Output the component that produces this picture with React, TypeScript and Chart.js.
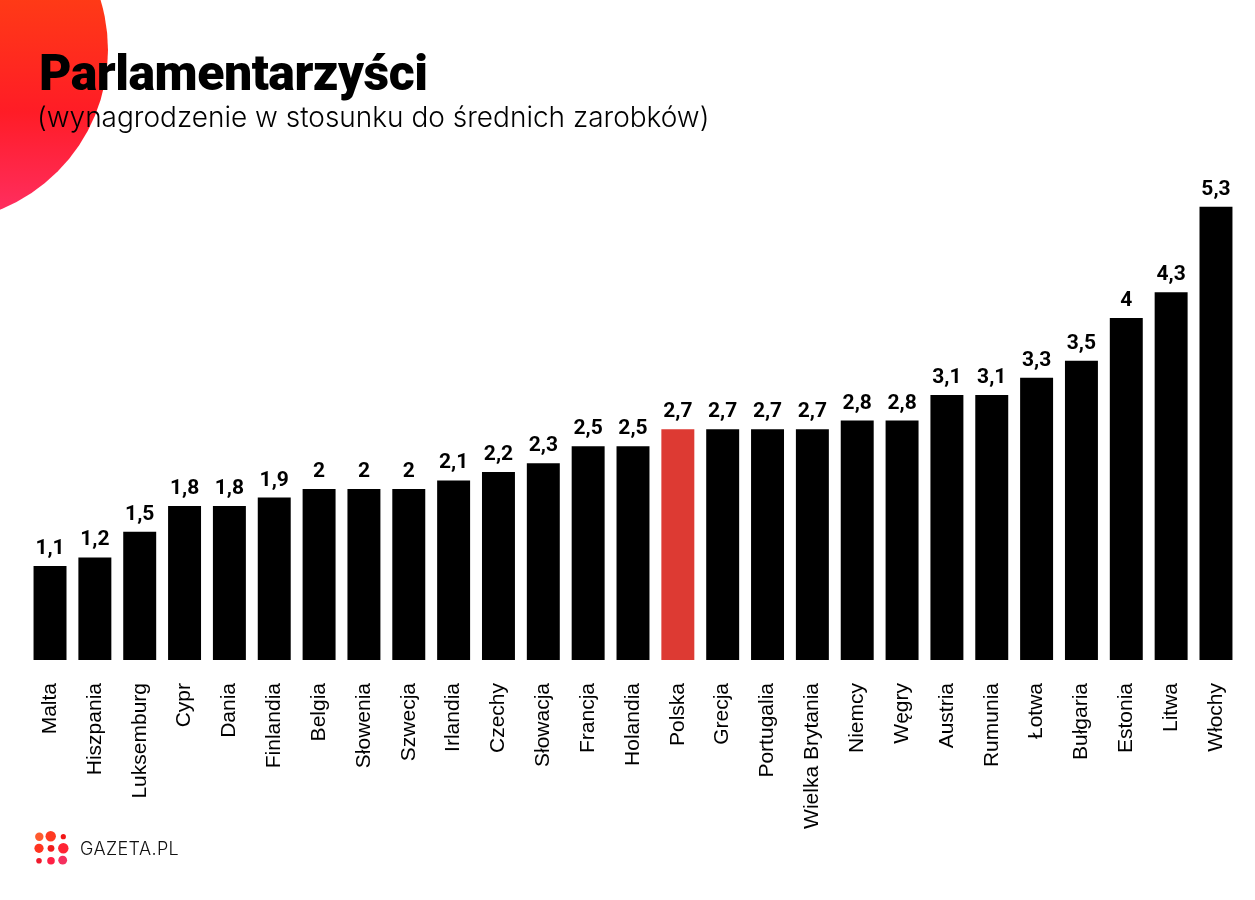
import React, { useEffect, useRef } from "react";
import { Chart, registerables } from "chart.js";

Chart.register(...registerables);

const countries: string[] = [
  "Malta", "Hiszpania", "Luksemburg", "Cypr", "Dania", "Finlandia", "Belgia",
  "Słowenia", "Szwecja", "Irlandia", "Czechy", "Słowacja", "Francja", "Holandia",
  "Polska", "Grecja", "Portugalia", "Wielka Brytania", "Niemcy", "Węgry",
  "Austria", "Rumunia", "Łotwa", "Bułgaria", "Estonia", "Litwa", "Włochy",
];

const ratios: number[] = [
  1.1, 1.2, 1.5, 1.8, 1.8, 1.9, 2, 2, 2, 2.1, 2.2, 2.3, 2.5, 2.5,
  2.7, 2.7, 2.7, 2.7, 2.8, 2.8, 3.1, 3.1, 3.3, 3.5, 4, 4.3, 5.3,
];

const highlighted = "Polska";

const TITLE = "Parlamentarzyści";
const SUBTITLE = "(wynagrodzenie w stosunku do średnich zarobków)";

const logoDots: { cx: number; cy: number; r: number; c: string }[] = [
  { cx: 9.3, cy: 11.7, r: 4.2, c: "#ff5a2e" },
  { cx: 20.7, cy: 11.2, r: 5.2, c: "#ff3a22" },
  { cx: 33.3, cy: 11.7, r: 2.6, c: "#f21616" },
  { cx: 9.0, cy: 23.3, r: 4.6, c: "#ff3420" },
  { cx: 21.0, cy: 23.3, r: 3.4, c: "#f01c1c" },
  { cx: 33.3, cy: 23.3, r: 5.2, c: "#ff2434" },
  { cx: 9.0, cy: 35.7, r: 2.8, c: "#f01a2c" },
  { cx: 21.0, cy: 35.7, r: 3.8, c: "#ff2044" },
  { cx: 32.7, cy: 35.2, r: 4.4, c: "#f5305e" },
];

const valueLabels = {
  id: "valueLabels",
  afterDatasetsDraw(chart: any) {
    const ctx = chart.ctx;
    const meta = chart.getDatasetMeta(0);
    ctx.save();
    ctx.font = "bold 21px Roboto";
    ctx.fillStyle = "#000";
    ctx.textAlign = "center";
    ctx.textBaseline = "alphabetic";
    meta.data.forEach((bar: any, i: number) => {
      const v = chart.data.datasets[0].data[i];
      ctx.fillText(String(v).replace(".", ","), bar.x, bar.y - 12);
    });
    ctx.restore();
  },
};

export default function App() {
  const ref = useRef<HTMLCanvasElement | null>(null);

  useEffect(() => {
    if (!ref.current) return;
    const chart = new Chart(ref.current, {
      type: "bar",
      data: {
        labels: countries,
        datasets: [
          {
            data: ratios,
            backgroundColor: countries.map((c) => (c === highlighted ? "#dd3a33" : "#000000")),
            borderWidth: 0,
            barPercentage: 0.735,
            categoryPercentage: 1,
          },
        ],
      },
      options: {
        responsive: false,
        animation: false,
        layout: { padding: { left: 27.6, right: 16.6, top: 0, bottom: 0 } },
        plugins: { legend: { display: false }, tooltip: { enabled: false }, title: { display: false } },
        scales: {
          x: {
            grid: { display: false, drawTicks: false },
            border: { display: false },
            ticks: {
              color: "#000",
              font: { family: "'Liberation Sans', Arial, sans-serif", size: 21 },
              minRotation: 90,
              maxRotation: 90,
              autoSkip: false,
              padding: 23,
            },
            afterFit: (s: any) => {
              s.height = 240;
              s.paddingLeft = 0;
              s.paddingRight = 0;
            },
          },
          y: {
            display: false,
            min: 0,
            max: 7.719,
          },
        },
      },
      plugins: [valueLabels],
    });
    return () => chart.destroy();
  }, []);

  return (
    <div
      style={{
        position: "absolute",
        left: 0,
        top: 0,
        width: 1255,
        height: 900,
        overflow: "hidden",
        background: "#fff",
      }}
    >
      <div
        style={{
          position: "absolute",
          left: -236,
          top: -122,
          width: 344,
          height: 344,
          borderRadius: "50%",
          background: "linear-gradient(180deg, #ff4010 0%, #ff3a16 35%, #ff1c26 68%, #ff3066 100%)",
        }}
      />
      <canvas ref={ref} width={1255} height={900} style={{ position: "absolute", left: 0, top: 0 }} />
      <div
        style={{
          position: "absolute",
          left: 39,
          top: 48,
          fontFamily: "Roboto, sans-serif",
          fontWeight: 900,
          fontSize: 50,
          lineHeight: 1,
          letterSpacing: -0.5,
          color: "#000",
          whiteSpace: "nowrap",
        }}
      >
        {TITLE}
      </div>
      <div
        style={{
          position: "absolute",
          left: 37,
          top: 103,
          fontFamily: "Inter, sans-serif",
          fontWeight: 300,
          fontSize: 28,
          lineHeight: 1,
          color: "#000",
          whiteSpace: "nowrap",
        }}
      >
        {SUBTITLE}
      </div>
      <svg
        width={44}
        height={46}
        style={{ position: "absolute", left: 30, top: 825 }}
      >
        {logoDots.map((d, i) => (
          <circle key={i} cx={d.cx} cy={d.cy} r={d.r} fill={d.c} />
        ))}
      </svg>
      <div
        style={{
          position: "absolute",
          left: 80,
          top: 840,
          fontFamily: "Inter, sans-serif",
          fontWeight: 300,
          fontSize: 18,
          lineHeight: 1,
          letterSpacing: 0.4,
          color: "#111",
          whiteSpace: "nowrap",
        }}
      >
        GAZETA.PL
      </div>
    </div>
  );
}
